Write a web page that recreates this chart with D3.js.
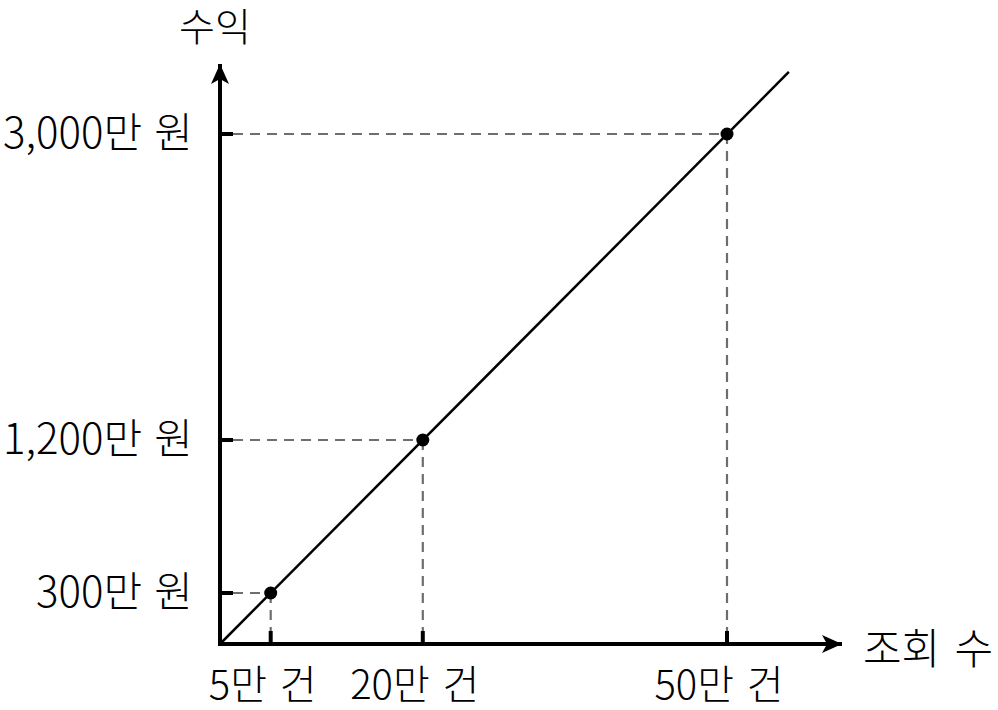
<!DOCTYPE html>
<html><head><meta charset="utf-8">
<script src="https://cdn.jsdelivr.net/npm/d3@7"></script>
<style>body{margin:0;background:#fff}svg{display:block}text{font-family:"Noto Sans CJK KR","Noto Sans",sans-serif;font-weight:300;fill:#000}</style>
</head><body>
<svg id="c" width="998" height="710"></svg>
<script>
const views = [5, 20, 50];             // 만 건
const revenue = [300, 1200, 3000];     // 만 원
const xLabels = ["5만 건", "20만 건", "50만 건"];
const yLabels = ["300만 원", "1,200만 원", "3,000만 원"];
const lineEnd = [56.1, 3365];          // end of proportional line
const xTitle = "조회 수", yTitle = "수익";

const svg = d3.select("#c");
const ox = 220, oy = 644;
const x = d3.scaleLinear().domain([0, 50]).range([ox, 727]);
const y = d3.scaleLinear().domain([0, 3000]).range([oy, 134]);

const defs = svg.append("defs");
defs.append("marker").attr("id","ah").attr("viewBox","0 0 20 18").attr("refX",20).attr("refY",9)
  .attr("markerWidth",20).attr("markerHeight",18).attr("markerUnits","userSpaceOnUse").attr("orient","auto")
  .append("path").attr("d","M0,0 L20,9 L0,18 L5,9 Z").attr("fill","#000");

// dashed guides
const g = svg.append("g");
views.forEach((v,i)=>{
  g.append("line").attr("x1",ox+13).attr("x2",x(v)).attr("y1",y(revenue[i])).attr("y2",y(revenue[i]))
   .attr("stroke","#6e6e6e").attr("stroke-width",2.2).attr("stroke-dasharray","10,7");
  g.append("line").attr("x1",x(v)).attr("x2",x(v)).attr("y1",y(revenue[i])).attr("y2",oy-13)
   .attr("stroke","#6e6e6e").attr("stroke-width",2.2).attr("stroke-dasharray","10,7");
});

// axes
svg.append("line").attr("x1",ox).attr("y1",oy).attr("x2",842).attr("y2",oy)
  .attr("stroke","#000").attr("stroke-width",4).attr("marker-end","url(#ah)");
svg.append("line").attr("x1",ox).attr("y1",oy+2).attr("x2",ox).attr("y2",64)
  .attr("stroke","#000").attr("stroke-width",4).attr("marker-end","url(#ah)");

// ticks
views.forEach(v=>svg.append("line").attr("x1",x(v)).attr("x2",x(v)).attr("y1",oy).attr("y2",oy-13).attr("stroke","#000").attr("stroke-width",4));
revenue.forEach(r=>svg.append("line").attr("x1",ox).attr("x2",ox+13).attr("y1",y(r)).attr("y2",y(r)).attr("stroke","#000").attr("stroke-width",4));

// line
svg.append("line").attr("x1",x(0)).attr("y1",y(0)).attr("x2",x(lineEnd[0])).attr("y2",y(lineEnd[1]))
  .attr("stroke","#000").attr("stroke-width",2.5);

// points
svg.selectAll("circle.p").data(views).join("circle").attr("class","p")
  .attr("cx",d=>x(d)).attr("cy",(d,i)=>y(revenue[i])).attr("r",6.5).attr("fill","#000");

// labels
svg.selectAll("text.xl").data(xLabels).join("text").attr("class","xl")
  .attr("x",(d,i)=>x(views[i])-8).attr("y",699).attr("text-anchor","middle").attr("font-size",40)
  .attr("word-spacing",4).text(d=>d);
svg.selectAll("text.yl").data(yLabels).join("text").attr("class","yl")
  .attr("x",193).attr("y",(d,i)=>y(revenue[i])+14).attr("text-anchor","end").attr("font-size",42)
  .attr("word-spacing",3).text(d=>d);
svg.append("text").attr("x",215).attr("y",41).attr("text-anchor","middle").attr("font-size",39).text(yTitle);
svg.append("text").attr("x",928).attr("y",664).attr("text-anchor","middle").attr("font-size",42)
  .attr("word-spacing",5).text(xTitle);
</script>
</body></html>
